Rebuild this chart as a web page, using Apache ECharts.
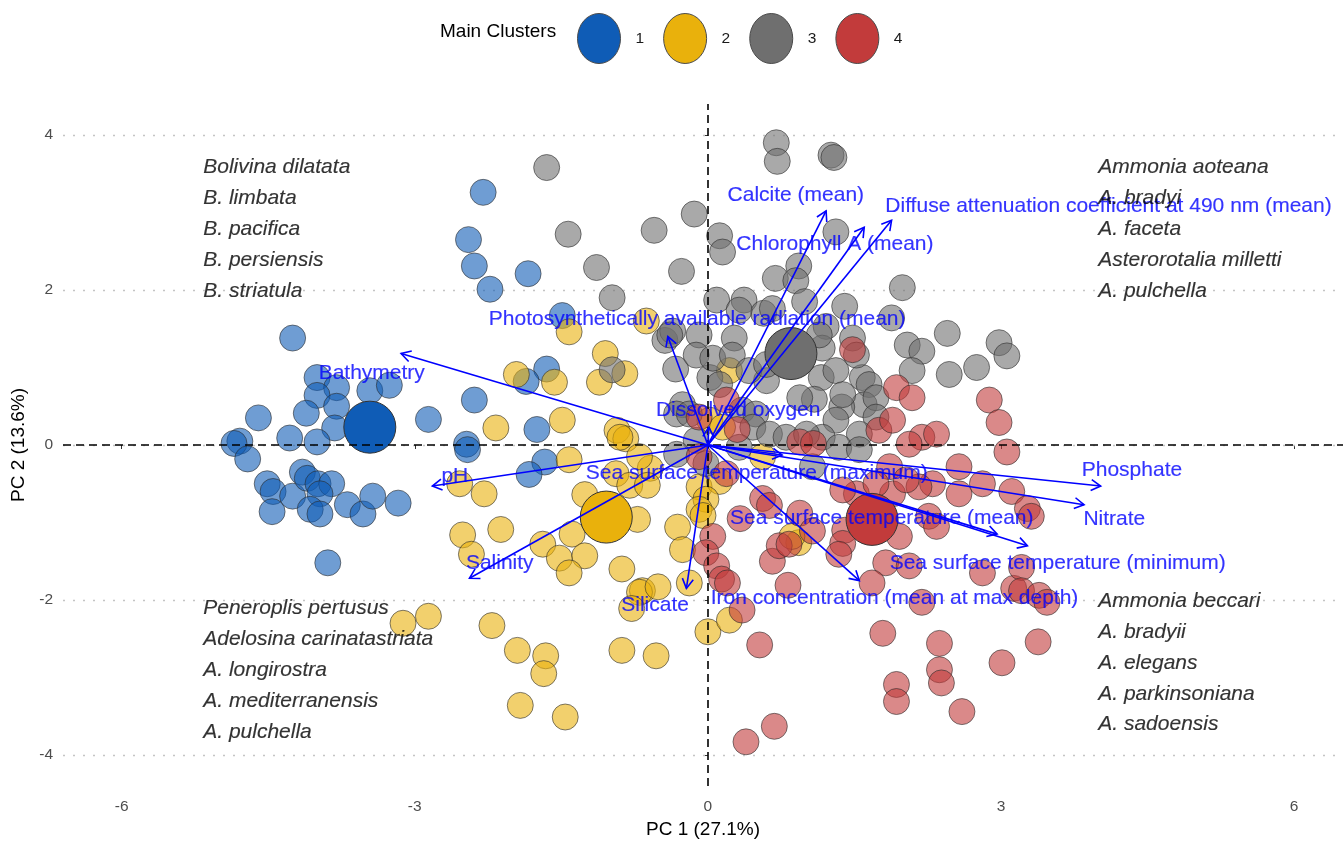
<!DOCTYPE html>
<html>
<head>
<meta charset="utf-8">
<title>PCA biplot – main clusters</title>
<script src="https://cdn.jsdelivr.net/npm/echarts@6/dist/echarts.min.js"></script>
<style>
  html, body { margin: 0; padding: 0; background: #ffffff; }
  #chart { width: 1343px; height: 844px; }
</style>
</head>
<body>
<div id="chart"></div>
<script>
// ---- Data -------------------------------------------------------------
const clusterNames = ['1', '2', '3', '4'];
const clusterColors = ['#0f5cb6', '#e9b10c', '#6f6f6f', '#c23b3b'];

// PC1 / PC2 scores of the sites, one array per cluster
const cluster1 = [
  [-2.30,3.26],[-2.45,2.65],[-2.39,2.31],[-2.23,2.01],[-1.84,2.21],[-1.49,1.67],[-4.25,1.38],
  [-4.00,0.87],[-3.80,0.74],[-4.00,0.64],[-3.46,0.70],[-3.26,0.77],[-4.60,0.35],[-4.11,0.41],
  [-3.80,0.50],[-3.82,0.22],[-4.28,0.09],[-4.79,0.05],[-4.85,0.02],[-4.71,-0.18],[-4.00,0.04],
  [-2.86,0.33],[-2.39,0.58],[-1.75,0.20],[-1.65,0.98],[-1.86,0.82],[-2.47,0.01],[-4.51,-0.50],
  [-4.45,-0.60],[-4.46,-0.86],[-4.25,-0.66],[-4.15,-0.35],[-4.10,-0.43],[-3.99,-0.50],[-3.85,-0.50],
  [-3.97,-0.63],[-4.07,-0.83],[-3.97,-0.89],[-3.69,-0.77],[-3.53,-0.89],[-3.43,-0.66],[-3.17,-0.75],
  [-3.89,-1.52],[-2.46,-0.06],[-1.67,-0.22],[-1.83,-0.38]
];
const cluster2 = [
  [-0.63,1.60],[-1.42,1.46],[-1.05,1.18],[-0.85,0.92],[-1.11,0.81],[-1.96,0.91],[-1.57,0.81],
  [-2.17,0.22],[-1.49,0.32],[-0.93,0.19],[-0.84,0.08],[-1.42,-0.19],[-2.54,-0.50],[-2.29,-0.63],
  [-1.26,-0.64],[-0.72,-0.96],[-2.51,-1.16],[-2.42,-1.41],[-2.12,-1.09],[-1.69,-1.28],[-1.39,-1.15],
  [-1.52,-1.46],[-1.26,-1.43],[-1.42,-1.65],[-0.88,-1.60],[-0.31,-1.06],[-0.26,-1.35],[-0.19,-1.78],
  [-0.67,-1.88],[-0.70,-1.90],[-0.51,-1.83],[-0.78,-2.11],[-3.12,-2.30],[-2.86,-2.21],[-2.21,-2.33],
  [-1.95,-2.65],[-1.66,-2.72],[-1.68,-2.95],[-1.92,-3.36],[-1.46,-3.51],[-0.88,-2.65],[-0.53,-2.72],
  [0.00,-2.41],[0.22,-2.26],[-0.94,-0.37],[-0.59,-0.30],[-0.80,-0.52],[-0.62,-0.52],[-0.90,0.10],
  [-0.70,-0.15],[-0.09,-0.54],[0.12,-0.47],[-0.02,-0.70],[-0.09,-0.83],[-0.05,-0.91],[0.02,0.32],
  [0.15,0.23],[0.22,0.96],[0.56,-0.15],[0.93,-1.26],[0.86,-1.18]
];
const cluster3 = [
  [-1.65,3.58],[-1.43,2.72],[-1.14,2.29],[-0.98,1.90],[-0.55,2.77],[-0.14,2.98],[-0.27,2.24],
  [-0.44,1.35],[-0.36,1.47],[-0.33,0.98],[-0.98,0.97],[-0.26,0.52],[-0.32,0.40],[0.70,3.90],
  [0.71,3.66],[1.26,3.74],[1.29,3.71],[0.12,2.70],[0.15,2.49],[1.31,2.75],[0.69,2.15],[0.93,2.31],
  [0.90,2.12],[0.09,1.87],[0.37,1.87],[0.57,1.70],[0.99,1.85],[1.40,1.79],[1.99,2.03],[1.88,1.64],
  [1.21,1.53],[1.48,1.38],[-0.09,1.42],[0.27,1.38],[2.04,1.29],[2.19,1.21],[2.45,1.44],[2.98,1.32],
  [3.06,1.15],[2.75,1.00],[2.47,0.91],[2.09,0.96],[1.17,1.25],[0.02,0.87],[0.60,0.83],[1.16,0.87],
  [1.31,0.96],[1.58,0.87],[1.52,1.16],[1.65,0.78],[1.60,0.52],[1.72,0.61],[1.37,0.49],[1.31,0.32],
  [1.09,0.59],[0.35,0.45],[1.14,1.42],[1.38,0.65],[1.72,0.36],[1.55,0.14],[1.17,0.10],[0.32,1.74],
  [0.66,1.76],[-0.39,1.42],[-0.12,1.16],[0.05,1.12],[0.25,1.16],[0.12,0.78],[0.42,0.96],[0.60,1.04],
  [-0.19,0.40],[0.49,0.40],[0.46,0.23],[0.63,0.14],[0.80,0.10],[1.01,0.14],[0.94,0.61],[-0.12,0.06],
  [-0.32,-0.12],[-0.02,-0.24],[0.32,-0.03],[1.07,-0.28],[1.34,-0.03],[1.55,-0.06]
];
const cluster4 = [
  [1.48,1.23],[1.93,0.74],[2.09,0.61],[2.88,0.58],[2.98,0.29],[0.94,0.04],[1.08,0.02],[1.75,0.19],
  [2.19,0.10],[2.34,0.14],[0.19,0.58],[-0.09,0.36],[0.30,0.20],[3.06,-0.09],[1.89,0.32],[2.06,0.01],
  [2.57,-0.28],[2.57,-0.63],[2.81,-0.50],[1.89,-0.63],[1.86,-0.28],[1.52,-0.63],[1.38,-0.58],
  [2.30,-0.50],[2.16,-0.54],[2.03,-0.45],[1.72,-0.50],[1.96,-1.18],[1.40,-1.10],[1.38,-1.27],
  [1.34,-1.41],[0.94,-0.88],[0.56,-0.69],[0.63,-0.78],[0.66,-1.50],[0.33,-0.95],[0.05,-1.18],
  [-0.02,-1.39],[0.09,-1.56],[0.19,-0.37],[-0.09,-0.15],[1.07,-1.11],[0.73,-1.30],[0.83,-1.28],
  [0.14,-1.73],[0.20,-1.78],[0.35,-2.13],[0.82,-1.81],[0.53,-2.58],[1.82,-1.52],[2.06,-1.56],
  [1.68,-1.78],[2.19,-2.03],[1.79,-2.43],[2.37,-2.56],[2.37,-2.90],[2.39,-3.07],[1.93,-3.09],
  [1.93,-3.31],[2.60,-3.44],[3.01,-2.81],[0.68,-3.63],[0.39,-3.83],[2.81,-1.65],[2.26,-0.92],
  [2.34,-1.05],[3.11,-0.60],[3.13,-1.85],[3.27,-0.82],[3.31,-0.92],[3.21,-1.58],[3.21,-1.88],
  [3.39,-1.94],[3.47,-2.03],[3.38,-2.54]
];
const clusterCentroids = [[-3.46,0.23],[-1.04,-0.93],[0.85,1.18],[1.68,-0.96]];

// Environmental loadings: arrow tips and label anchors
const loadingNames = [
  'Bathymetry', 'pH', 'Salinity', 'Silicate',
  'Photosynthetically available radiation (mean)', 'Dissolved oxygen',
  'Calcite (mean)', 'Chlorophyll A (mean)', 'Diffuse attenuation coefficient at 490 nm (mean)',
  'Sea surface temperature (maximum)', 'Phosphate', 'Nitrate',
  'Sea surface temperature (mean)', 'Sea surface temperature (minimum)',
  'Iron concentration (mean at max depth)'
];
const loadingTips = [
  [-3.14,1.18],[-2.82,-0.53],[-2.44,-1.72],[-0.22,-1.85],
  [-0.41,1.40],[0.01,0.23],
  [1.21,3.02],[1.60,2.81],[1.88,2.90],
  [0.76,-0.13],[4.02,-0.53],[3.85,-0.77],
  [2.96,-1.15],[3.27,-1.30],
  [1.55,-1.75]
];
const loadingLabelPos = [
  [-3.44,0.93],[-2.59,-0.40],[-2.13,-1.52],[-0.54,-2.07],
  [-0.11,1.62],[0.31,0.45],
  [0.90,3.22],[1.30,2.59],[4.10,3.08],
  [0.50,-0.36],[4.34,-0.33],[4.16,-0.96],
  [1.78,-0.95],[3.58,-1.53],
  [1.91,-1.98]
];

// Indicator species printed in each quadrant
const speciesTopLeft = ['Bolivina dilatata', 'B. limbata', 'B. pacifica', 'B. persiensis', 'B. striatula'];
const speciesTopRight = ['Ammonia aoteana', 'A. bradyi', 'A. faceta', 'Asterorotalia milletti', 'A. pulchella'];
const speciesBottomLeft = ['Peneroplis pertusus', 'Adelosina carinatastriata', 'A. longirostra', 'A. mediterranensis', 'A. pulchella'];
const speciesBottomRight = ['Ammonia beccari', 'A. bradyii', 'A. elegans', 'A. parkinsoniana', 'A. sadoensis'];
const speciesLeftX = -5.17;
const speciesRightX = 3.99;
const speciesTopY = [3.58, 3.18, 2.78, 2.38, 1.98];
const speciesBottomLeftY = [-2.11, -2.51, -2.91, -3.31, -3.70];
const speciesBottomRightY = [-2.02, -2.42, -2.81, -3.21, -3.60];

const xTicks = [-6, -3, 0, 3, 6];
const yTicks = [-4, -2, 0, 2, 4];

// ---- Chart ------------------------------------------------------------
const FONT = '"Liberation Sans", Arial, Helvetica, sans-serif';
const clusterPoints = [cluster1, cluster2, cluster3, cluster4];

function speciesItems(names, x, ys) {
  return names.map((n, i) => ({ name: n, value: [x, ys[i]] }));
}

// loading vector: shaft from the origin plus an open arrow head at the tip
function renderArrow(params, api) {
  const start = api.coord([api.value(0), api.value(1)]);
  const end = api.coord([api.value(2), api.value(3)]);
  const ang = Math.atan2(end[1] - start[1], end[0] - start[0]);
  const len = 11, spread = Math.PI / 6;
  const h1 = [end[0] - len * Math.cos(ang - spread), end[1] - len * Math.sin(ang - spread)];
  const h2 = [end[0] - len * Math.cos(ang + spread), end[1] - len * Math.sin(ang + spread)];
  const style = { stroke: '#0000ff', lineWidth: 1.6, fill: null };
  return {
    type: 'group',
    children: [
      { type: 'line', shape: { x1: start[0], y1: start[1], x2: end[0], y2: end[1] }, style },
      { type: 'polyline', shape: { points: [h1, end, h2] }, style }
    ]
  };
}

const series = clusterNames.map((name, i) => ({
  name,
  type: 'scatter',
  z: 2,
  symbolSize: 26,
  data: clusterPoints[i],
  itemStyle: { color: clusterColors[i], opacity: 0.6, borderColor: '#2b2b2b', borderWidth: 1 },
  emphasis: { disabled: true },
  silent: true
}));

series.push({
  name: 'centroids',
  type: 'scatter',
  z: 3,
  symbolSize: 52,
  silent: true,
  data: clusterCentroids.map((c, i) => ({ value: c, itemStyle: { color: clusterColors[i] } })),
  itemStyle: { opacity: 1, borderColor: '#333333', borderWidth: 1 }
});

series.push({
  name: 'loadings',
  type: 'custom',
  z: 5,
  silent: true,
  data: loadingTips.map(t => [0, 0, t[0], t[1]]),
  encode: { x: [0, 2], y: [1, 3] },
  renderItem: renderArrow
});

series.push({
  name: 'loading labels',
  type: 'scatter',
  z: 6,
  silent: true,
  symbolSize: 1,
  itemStyle: { color: 'rgba(0,0,0,0)' },
  data: loadingNames.map((n, i) => ({ name: n, value: loadingLabelPos[i] })),
  label: {
    show: true, position: 'inside', formatter: '{b}',
    color: '#0000ff', fontSize: 21, fontFamily: FONT,
    textBorderColor: '#0000ff', textBorderWidth: 0.15
  },
  markLine: {
    silent: true, z: 4, animation: false,
    symbol: ['none', 'none'],
    label: { show: false },
    lineStyle: { color: '#000000', width: 1.6, type: [8, 5] },
    data: [{ xAxis: 0 }, { yAxis: 0 }]
  }
});

series.push({
  name: 'species',
  type: 'scatter',
  z: 6,
  silent: true,
  symbolSize: 1,
  itemStyle: { color: 'rgba(0,0,0,0)' },
  data: [].concat(
    speciesItems(speciesTopLeft, speciesLeftX, speciesTopY),
    speciesItems(speciesTopRight, speciesRightX, speciesTopY),
    speciesItems(speciesBottomLeft, speciesLeftX, speciesBottomLeftY),
    speciesItems(speciesBottomRight, speciesRightX, speciesBottomRightY)
  ),
  label: {
    show: true, position: 'right', distance: 0, formatter: '{b}',
    color: '#000000', fontSize: 21, fontStyle: 'italic', fontFamily: FONT,
    textBorderColor: '#000000', textBorderWidth: 0.15
  },
  markLine: {
    silent: true, z: 1, animation: false,
    symbol: ['none', 'none'],
    label: { show: false },
    lineStyle: { color: '#c4c4c4', width: 1.4, type: [2, 8] },
    data: yTicks.map(v => ({ yAxis: v }))
  }
});

const option = {
  animation: false,
  backgroundColor: '#ffffff',
  textStyle: { fontFamily: FONT },
  title: {
    text: 'Main Clusters',
    left: 435, top: 17,
    textStyle: { fontSize: 19, fontWeight: 'normal', color: '#000000', fontFamily: FONT }
  },
  legend: {
    data: clusterNames,
    left: 572, top: 8,
    itemWidth: 43, itemHeight: 50, itemGap: 19,
    icon: 'path://M50,0 A50,50 0 1 1 50,100 A50,50 0 1 1 50,0 Z',
    symbolKeepAspect: false,
    itemStyle: { opacity: 1, borderColor: '#4a4a4a', borderWidth: 1 },
    textStyle: { fontSize: 15.5, color: '#1a1a1a', padding: [0, 0, 0, 10], fontFamily: FONT },
    selectedMode: false
  },
  grid: { left: 63, right: 0, top: 104, bottom: 52, containLabel: false },
  xAxis: {
    type: 'value', min: -6.6, max: 6.5,
    axisLine: { show: false },
    splitLine: { show: false },
    axisTick: { show: true, customValues: xTicks, length: 4, lineStyle: { color: '#333333' } },
    axisLabel: { customValues: xTicks, margin: 13, fontSize: 15.5, color: '#4d4d4d', fontFamily: FONT },
    name: 'PC 1 (27.1%)', nameLocation: 'middle', nameGap: 34,
    nameTextStyle: { fontSize: 19, color: '#000000', fontFamily: FONT }
  },
  yAxis: {
    type: 'value', min: -4.4, max: 4.4,
    axisLine: { show: false },
    splitLine: { show: false },
    axisTick: { show: true, customValues: yTicks, length: 4, lineStyle: { color: '#333333' } },
    axisLabel: { customValues: yTicks, margin: 10, fontSize: 15.5, color: '#4d4d4d', fontFamily: FONT },
    name: 'PC 2 (13.6%)', nameLocation: 'middle', nameGap: 29,
    nameTextStyle: { fontSize: 19, color: '#000000', fontFamily: FONT }
  },
  series
};

const chart = echarts.init(document.getElementById('chart'));
chart.setOption(option);
</script>
</body>
</html>
